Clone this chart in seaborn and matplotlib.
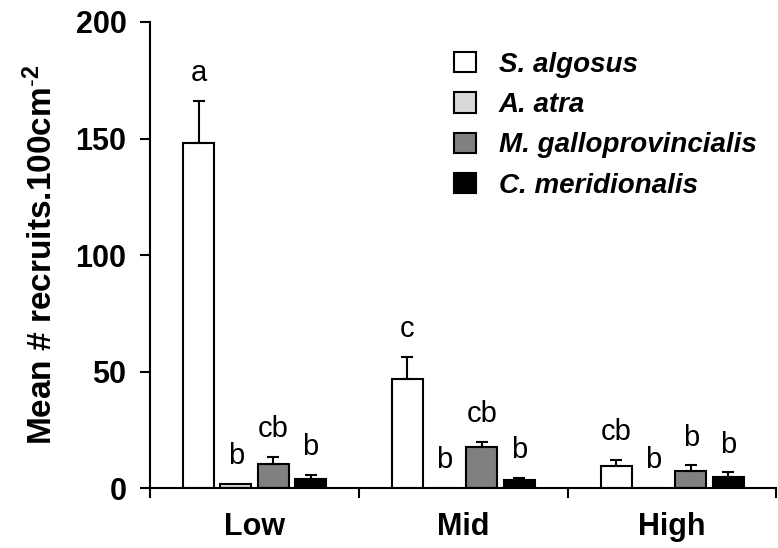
import pandas as pd
import numpy as np
import matplotlib.pyplot as plt
import seaborn as sns

zones = ["Low", "Mid", "High"]
species = ["S. algosus", "A. atra", "M. galloprovincialis", "C. meridionalis"]
colors = ["#ffffff", "#d9d9d9", "#808080", "#000000"]

# mean recruits per species, one value per zone (Low, Mid, High)
s_algosus = [148, 47, 9.5]
a_atra = [2, 0, 0]
m_gallo = [10.5, 17.5, 7.2]
c_merid = [4, 3.5, 5]

# standard errors (upper only)
s_algosus_se = [18, 9.5, 2.5]
a_atra_se = [0, 0, 0]
m_gallo_se = [3, 2.3, 2.6]
c_merid_se = [1.8, 0.8, 1.8]

# significance letters
s_algosus_lab = ["a", "c", "cb"]
a_atra_lab = ["b", "b", "b"]
m_gallo_lab = ["cb", "cb", "b"]
c_merid_lab = ["b", "b", "b"]

means = [s_algosus, a_atra, m_gallo, c_merid]
ses = [s_algosus_se, a_atra_se, m_gallo_se, c_merid_se]
labs = [s_algosus_lab, a_atra_lab, m_gallo_lab, c_merid_lab]

df = pd.DataFrame({
    "zone": np.tile(zones, len(species)),
    "species": np.repeat(species, len(zones)),
    "mean": np.concatenate(means),
})

sns.set_style("ticks")
plt.rcParams['font.family'] = ['Liberation Sans', 'DejaVu Sans']
plt.rcParams['mathtext.fontset'] = 'custom'
plt.rcParams['mathtext.bf'] = 'Liberation Sans:bold'
plt.rcParams['mathtext.rm'] = 'Liberation Sans'
for k in ['text.color', 'axes.labelcolor', 'xtick.color', 'ytick.color', 'axes.edgecolor']:
    plt.rcParams[k] = 'black'

fig, ax = plt.subplots(figsize=(7.78, 5.48), dpi=100)
fig.subplots_adjust(left=0.193, right=0.998, bottom=0.109, top=0.96)

sns.barplot(data=df, x="zone", y="mean", hue="species", order=zones, hue_order=species,
            palette=colors, edgecolor="black", linewidth=1.5, width=0.715, gap=0.17,
            errorbar=None, saturation=1, ax=ax)

leg = ax.get_legend()
handles = leg.legend_handles
leg.remove()

bar_conts = list(ax.containers)
for i, cont in enumerate(bar_conts):
    for bar in cont:
        x = bar.get_x() + bar.get_width() / 2
        j = int(round(x))
        m = means[i][j]
        e = ses[i][j]
        if e > 0:
            ax.errorbar(x, m, yerr=[[0], [e]], fmt='none', ecolor='black',
                        elinewidth=1.5, capsize=4, capthick=1.5)
        ax.annotate(labs[i][j], (x, m + e), xytext=(0, 10), textcoords='offset points',
                    ha='center', va='bottom', fontsize=21)

ax.set_ylim(0, 200)
ax.set_yticks([0, 50, 100, 150, 200])
ax.set_xlim(-0.5, 2.5)
ax.set_xticks([0, 1, 2])
ax.set_xticklabels(zones)
ax.set_xticks([-0.5, 0.5, 1.5, 2.5], minor=True)
ax.tick_params(axis='x', which='major', length=0, pad=17)
ax.tick_params(axis='x', which='minor', length=7, width=1.5, direction='out')
ax.tick_params(axis='y', length=7, width=1.5, direction='out', pad=10)
for t in ax.get_xticklabels() + ax.get_yticklabels():
    t.set_fontsize(22)
    t.set_fontweight('bold')

ax.set_xlabel('')
ax.set_ylabel(r'Mean # recruits.100cm$\mathbf{^{\text{-}2}}$', fontsize=24, fontweight='bold', labelpad=12)

for s in ['top', 'right']:
    ax.spines[s].set_visible(False)
for s in ['left', 'bottom']:
    ax.spines[s].set_linewidth(1.5)

ax.legend(handles, species, loc='upper right', bbox_to_anchor=(1.008, 0.99), frameon=False,
          prop={'size': 20, 'weight': 'bold', 'style': 'italic'},
          handlelength=0.8, handleheight=0.75, handletextpad=0.8, labelspacing=0.52)

fig.savefig("out.png", dpi=100)
